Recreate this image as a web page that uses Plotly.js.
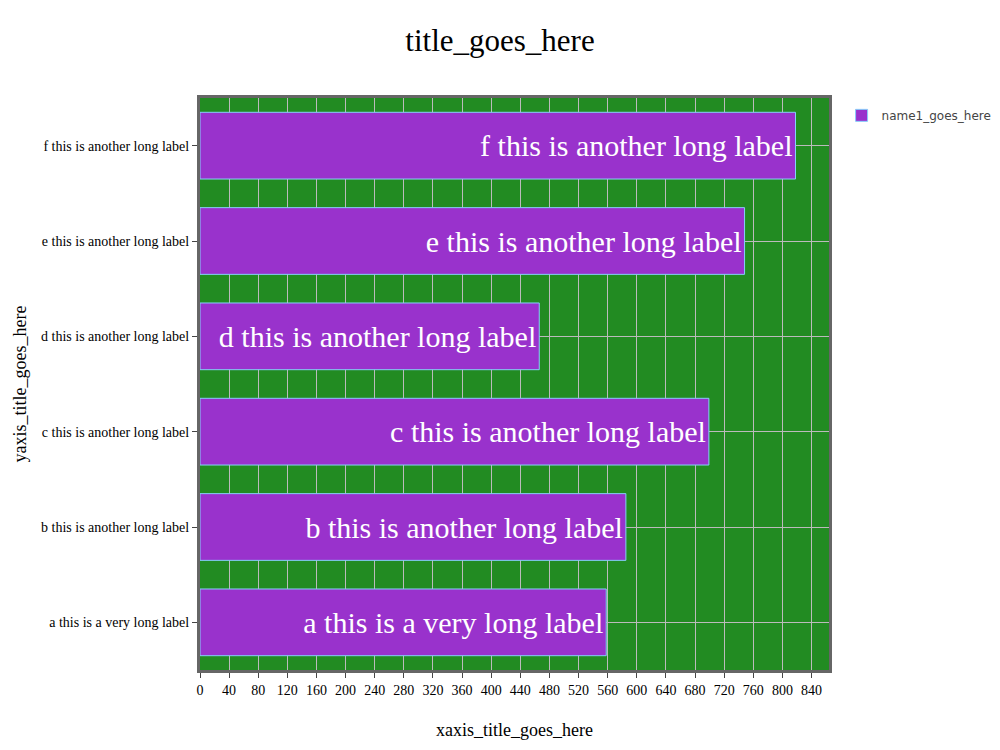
<!DOCTYPE html>
<html><head><meta charset="utf-8">
<script src="https://cdn.plot.ly/plotly-3.0.1.min.js"></script>
<style>body{margin:0}</style>
</head><body>
<div id="chart" style="width:1000px;height:750px"></div>
<script>
const categories = ["a this is a very long label","b this is another long label","c this is another long label","d this is another long label","e this is another long label","f this is another long label"];
const values = [558, 585, 699, 466, 748, 818];
const seriesName = "name1_goes_here";

const serif = 'Liberation Serif, Times New Roman, serif';
const trace = {
  type: 'bar', orientation: 'h', name: seriesName,
  x: values, y: categories,
  text: categories, textposition: 'inside', insidetextanchor: 'end',
  textfont: {family: serif, size: 30, color: '#ffffff'},
  marker: {color: '#9932CC', line: {color: '#87CEFA', width: 1}},
  showlegend: true
};
const layout = {
  width: 1000, height: 750,
  margin: {l: 200, r: 171, t: 98, b: 80, autoexpand: false},
  paper_bgcolor: '#ffffff', plot_bgcolor: '#228B22',
  font: {family: serif, size: 14, color: '#000'},
  title: {text: 'title_goes_here', font: {size: 31, family: serif}, y: 0.947, yanchor: 'middle'},
  bargap: 0.3,
  showlegend: true,
  legend: {x: 1.02, y: 0.995, font: {family: 'DejaVu Sans, Verdana, sans-serif', size: 12, color: '#444'}},
  xaxis: {
    title: {text: 'xaxis_title_goes_here', font: {size: 18}},
    range: [0, 864], dtick: 40, tick0: 0,
    showgrid: true, gridcolor: '#bbbbbb', gridwidth: 1,
    showline: true, mirror: true, linecolor: '#666666', linewidth: 3,
    ticks: 'outside', ticklen: 5, tickcolor: '#444', zeroline: false
  },
  yaxis: {
    title: {text: 'yaxis_title_goes_here', font: {size: 18}, standoff: 10},
    showgrid: true, gridcolor: '#bbbbbb', gridwidth: 1,
    showline: true, mirror: true, linecolor: '#666666', linewidth: 3,
    ticks: 'outside', ticklen: 5, tickcolor: '#444'
  }
};
Plotly.newPlot('chart', [trace], layout, {displayModeBar: false});
</script>
</body></html>
